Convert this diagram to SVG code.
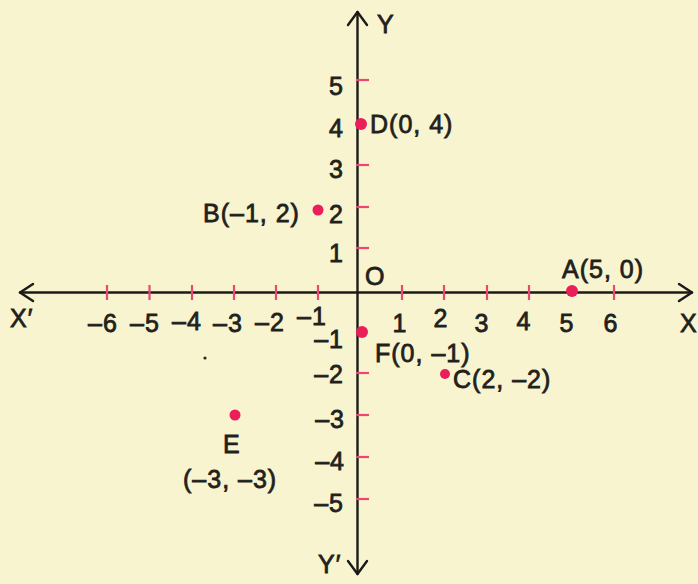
<svg xmlns="http://www.w3.org/2000/svg" width="698" height="584" viewBox="0 0 698 584">
  <defs>
    <style>
      .t { font-family: "Liberation Sans", Arial, sans-serif; font-size: 25px; letter-spacing: 1px; fill: #231f1c; stroke: #231f1c; stroke-width: 0.8px; }
      .m { text-anchor: middle; }
      .e { text-anchor: end; }
      .axis { stroke: #1c1a18; stroke-width: 2.4; fill: none; stroke-linecap: round; stroke-linejoin: round; }
      .tick { stroke: #ea4676; stroke-width: 2.2; }
      .dot { fill: #ea1f5a; }
    </style>
  </defs>
  <rect width="698" height="584" fill="#f8f4d0"/>

  <g id="connectors">
    <line class="axis" x1="20" y1="292.5" x2="692" y2="292.5"/>
    <line class="axis" x1="357.5" y1="12" x2="357.5" y2="574"/>
    <polyline class="axis" points="33,284 20,292.5 33,301"/>
    <polyline class="axis" points="679,284 692,292.5 679,301"/>
    <polyline class="axis" points="348,25 357.5,12 367,25"/>
    <polyline class="axis" points="348,561 357.5,574 367,561"/>
  </g>

  <g id="ticks">
    <line class="tick" x1="107" y1="285" x2="107" y2="300"/>
    <line class="tick" x1="149.5" y1="285" x2="149.5" y2="300"/>
    <line class="tick" x1="192" y1="285" x2="192" y2="300"/>
    <line class="tick" x1="234" y1="285" x2="234" y2="300"/>
    <line class="tick" x1="276" y1="285" x2="276" y2="300"/>
    <line class="tick" x1="318" y1="285" x2="318" y2="300"/>
    <line class="tick" x1="402" y1="285" x2="402" y2="300"/>
    <line class="tick" x1="444" y1="285" x2="444" y2="300"/>
    <line class="tick" x1="487" y1="285" x2="487" y2="300"/>
    <line class="tick" x1="529" y1="285" x2="529" y2="300"/>
    <line class="tick" x1="614" y1="285" x2="614" y2="300"/>
    <line class="tick" x1="356" y1="80" x2="369" y2="80"/>
    <line class="tick" x1="356" y1="165" x2="369" y2="165"/>
    <line class="tick" x1="356" y1="207" x2="369" y2="207"/>
    <line class="tick" x1="356" y1="248" x2="369" y2="248"/>
    <line class="tick" x1="356" y1="373" x2="369" y2="373"/>
    <line class="tick" x1="356" y1="415" x2="369" y2="415"/>
    <line class="tick" x1="356" y1="457" x2="369" y2="457"/>
    <line class="tick" x1="356" y1="499" x2="369" y2="499"/>
  </g>

  <g id="axis-labels">
    <text class="t" x="377" y="33">Y</text>
    <text class="t" x="318" y="573">Y′</text>
    <text class="t" x="680" y="332">X</text>
    <text class="t" x="10" y="327">X′</text>
    <text class="t" x="365" y="285">O</text>
  </g>

  <g id="x-numbers">
    <text class="t" x="88" y="332">–6</text>
    <text class="t" x="130" y="332">–5</text>
    <text class="t" x="172" y="330">–4</text>
    <text class="t" x="213" y="332">–3</text>
    <text class="t" x="255" y="331">–2</text>
    <text class="t" x="297" y="325">–1</text>
    <text class="t m" x="400" y="332">1</text>
    <text class="t m" x="441" y="327">2</text>
    <text class="t m" x="482" y="332">3</text>
    <text class="t m" x="524" y="330">4</text>
    <text class="t m" x="567" y="332">5</text>
    <text class="t m" x="611" y="332">6</text>
  </g>

  <g id="y-numbers">
    <text class="t e" x="344" y="95">5</text>
    <text class="t e" x="344" y="137">4</text>
    <text class="t e" x="344" y="178">3</text>
    <text class="t e" x="344" y="223">2</text>
    <text class="t e" x="344" y="262">1</text>
    <text class="t e" x="344" y="348">–1</text>
    <text class="t e" x="344" y="383">–2</text>
    <text class="t e" x="345" y="428">–3</text>
    <text class="t e" x="345" y="470">–4</text>
    <text class="t e" x="344" y="512">–5</text>
  </g>

  <g id="pointA">
    <circle class="dot" cx="572" cy="291" r="6"/>
    <text class="t" x="562" y="278">A(5, 0)</text>
  </g>
  <g id="pointB">
    <circle class="dot" cx="318" cy="210" r="5.5"/>
    <text class="t" x="203" y="222">B(–1, 2)</text>
  </g>
  <g id="pointC">
    <circle class="dot" cx="445" cy="374" r="5"/>
    <text class="t" x="453" y="388">C(2, –2)</text>
  </g>
  <g id="pointD">
    <circle class="dot" cx="361" cy="124" r="6"/>
    <text class="t" x="370" y="133">D(0, 4)</text>
  </g>
  <g id="pointE">
    <circle class="dot" cx="235" cy="415" r="5.5"/>
    <text class="t" x="223" y="453">E</text>
    <text class="t" x="183" y="488">(–3, –3)</text>
  </g>
  <g id="pointF">
    <circle class="dot" cx="362" cy="332" r="6"/>
    <text class="t" x="375" y="362">F(0, –1)</text>
  </g>

  <circle cx="205" cy="358" r="1.6" fill="#2a2522"/>
</svg>
